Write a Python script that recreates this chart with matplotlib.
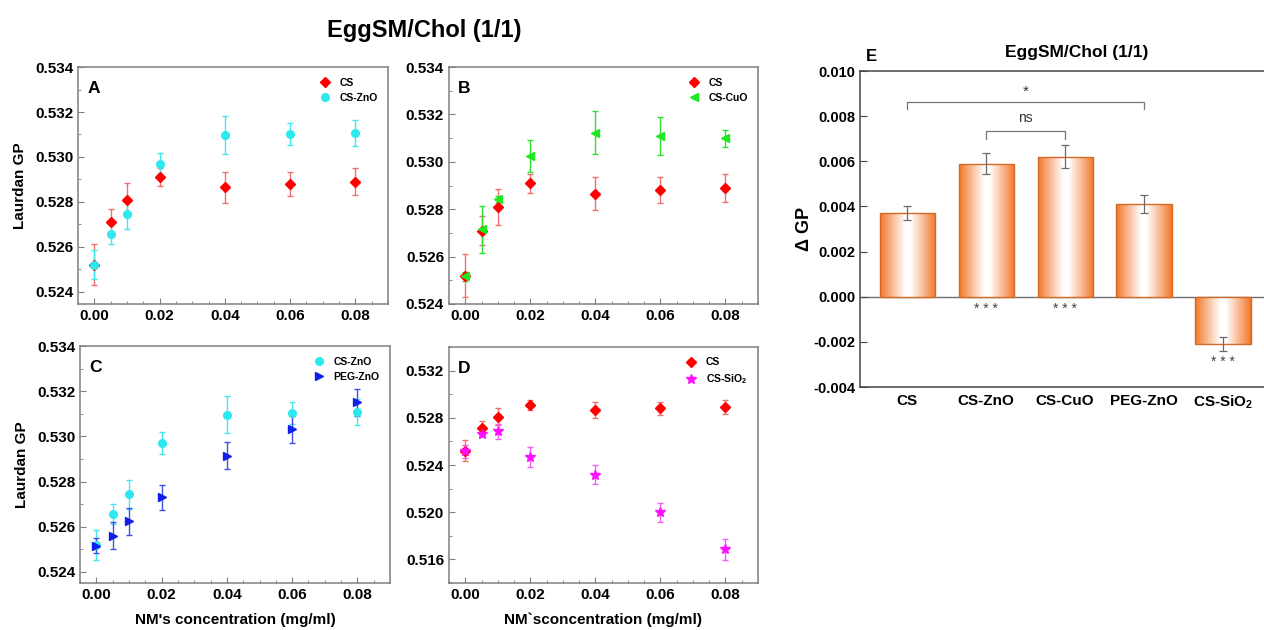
import numpy as np
import matplotlib
matplotlib.use("Agg")
import matplotlib.pyplot as plt
from matplotlib.ticker import MultipleLocator, FormatStrFormatter
from matplotlib.colors import LinearSegmentedColormap

plt.rcParams['font.family'] = ['Liberation Sans', 'DejaVu Sans']
plt.rcParams['mathtext.default'] = 'regular'

# concentrations (mg/ml)
conc = [0.0, 0.005, 0.01, 0.02, 0.04, 0.06, 0.08]

cs = [0.5252, 0.5271, 0.5281, 0.5291, 0.52865, 0.5288, 0.5289]
cs_err = [0.0009, 0.0006, 0.00075, 0.0004, 0.0007, 0.00055, 0.0006]
cs_zno = [0.5252, 0.52656, 0.52744, 0.5297, 0.53097, 0.53103, 0.53108]
cs_zno_err = [0.00065, 0.00045, 0.00065, 0.00048, 0.00083, 0.00049, 0.00058]
cs_cuo = [0.52516, 0.52715, 0.52844, 0.53025, 0.53123, 0.5311, 0.5310]
cs_cuo_err = [0.0002, 0.001, 0.00013, 0.00066, 0.0009, 0.0008, 0.00036]
peg_zno = [0.52516, 0.52561, 0.52624, 0.52731, 0.52914, 0.53032, 0.53151]
peg_zno_err = [0.00033, 0.00058, 0.0006, 0.00055, 0.0006, 0.0006, 0.0006]
cs_sio2 = [0.52515, 0.52662, 0.52685, 0.52468, 0.52318, 0.5200, 0.51685]
cs_sio2_err = [0.00056, 0.00015, 0.00065, 0.00085, 0.00078, 0.0008, 0.0009]

# delta GP bars
bar_labels = ['CS', 'CS-ZnO', 'CS-CuO', 'PEG-ZnO', 'CS-SiO$_2$']
dgp = [0.0037, 0.0059, 0.0062, 0.0041, -0.0021]
dgp_err = [0.0003, 0.00048, 0.0005, 0.0004, 0.0003]

styles = {
    'CS': dict(marker='D', color='#ff0000', ecolor='#f07070', ms=5),
    'CS-ZnO': dict(marker='o', color='#2ee8f0', ecolor='#40e8f0', ms=5.5),
    'CS-CuO': dict(marker='<', color='#1ee81e', ecolor='#30e030', ms=5.5),
    'PEG-ZnO': dict(marker='>', color='#1020e8', ecolor='#4050e0', ms=5.5),
    'CS-SiO$_2$': dict(marker='*', color='#ff10ff', ecolor='#f060f0', ms=7),
}

narrow = ['Liberation Sans Narrow', 'Liberation Sans']
grey = '#808080'

fig = plt.figure(figsize=(12.64, 6.30), dpi=100)


def style_ticks(ax):
    for lab in ax.get_xticklabels() + ax.get_yticklabels():
        lab.set_family(narrow)
        lab.set_fontweight('bold')
        lab.set_fontsize(11)


def panel(rect, series, letter, ylim, major, minor, ylabel=None, xlabel=None):
    ax = fig.add_axes(rect)
    for name, y, e in series:
        st = styles[name]
        ax.errorbar(conc, y, yerr=e, fmt='none', ecolor=st['ecolor'], elinewidth=1.0,
                    capsize=2.5, capthick=1.0, zorder=2)
        ax.plot(conc, y, linestyle='none', marker=st['marker'], color=st['color'],
                ms=st['ms'], label=name, zorder=3)
    ax.set_xlim(-0.005, 0.09)
    ax.set_ylim(*ylim)
    ax.xaxis.set_major_locator(MultipleLocator(0.02))
    ax.xaxis.set_minor_locator(MultipleLocator(0.005))
    ax.yaxis.set_major_locator(MultipleLocator(major))
    ax.yaxis.set_minor_locator(MultipleLocator(minor))
    ax.xaxis.set_major_formatter(FormatStrFormatter('%.2f'))
    ax.yaxis.set_major_formatter(FormatStrFormatter('%.3f'))
    ax.tick_params(which='both', direction='in', color=grey)
    ax.tick_params(which='major', length=4)
    ax.tick_params(which='minor', length=2)
    for s in ax.spines.values():
        s.set_color(grey)
        s.set_linewidth(1.1)
    style_ticks(ax)
    ax.text(0.03, 0.94, letter, transform=ax.transAxes, fontsize=12.5,
            fontweight='bold', va='top', ha='left')
    ax.legend(loc='upper right', frameon=False, prop=dict(weight='bold', size=7.5),
              handletextpad=0.4, borderaxespad=0.6, labelspacing=0.5)
    if ylabel:
        ax.set_ylabel(ylabel, fontsize=11, fontweight='bold', labelpad=6)
    if xlabel:
        ax.set_xlabel(xlabel, fontsize=11, fontweight='bold', labelpad=8)
    return ax


panel([0.0617, 0.5175, 0.2453, 0.376],
      [('CS', cs, cs_err), ('CS-ZnO', cs_zno, cs_zno_err)],
      'A', (0.52345, 0.534), 0.002, 0.001, ylabel='Laurdan GP')
panel([0.3552, 0.5175, 0.2445, 0.376],
      [('CS', cs, cs_err), ('CS-CuO', cs_cuo, cs_cuo_err)],
      'B', (0.524, 0.534), 0.002, 0.001)
panel([0.0633, 0.0746, 0.2453, 0.376],
      [('CS-ZnO', cs_zno, cs_zno_err), ('PEG-ZnO', peg_zno, peg_zno_err)],
      'C', (0.52351, 0.534), 0.002, 0.001, ylabel='Laurdan GP',
      xlabel="NM's concentration (mg/ml)")
axD = panel([0.3552, 0.0746, 0.2445, 0.3746],
            [('CS', cs, cs_err), ('CS-SiO$_2$', cs_sio2, cs_sio2_err)],
            'D', (0.514, 0.534), 0.004, 0.002,
            xlabel="NM`sconcentration (mg/ml)")
axD.set_yticks([0.516, 0.520, 0.524, 0.528, 0.532])
axD.set_ylim(0.514, 0.534)
style_ticks(axD)

fig.text(0.336, 0.952, 'EggSM/Chol (1/1)', fontsize=17, fontweight='bold',
         ha='center', va='center')

# panel E
axE = fig.add_axes([0.6804, 0.3857, 0.3196, 0.5016])
x = np.arange(len(bar_labels))
bars = axE.bar(x, dgp, width=0.7, facecolor='none', edgecolor='#d26a25',
               linewidth=1.0, zorder=3)
cmap = LinearSegmentedColormap.from_list(
    'og', [(0.0, '#f2772a'), (0.45, '#ffffff'), (0.55, '#ffffff'), (1.0, '#f2772a')])
grad = np.linspace(0, 1, 256).reshape(1, -1)
for p in bars:
    x0, w = p.get_x(), p.get_width()
    y0, h = p.get_y(), p.get_height()
    im = axE.imshow(grad, extent=(x0, x0 + w, min(y0, y0 + h), max(y0, y0 + h)),
                    aspect='auto', cmap=cmap, zorder=2)
    im.set_clip_path(p)
axE.errorbar(x, dgp, yerr=dgp_err, fmt='none', ecolor='#6a6a6a', elinewidth=0.9,
             capsize=3, capthick=0.9, zorder=4)
axE.axhline(0, color='#707070', lw=1.0, zorder=1)
axE.set_xlim(-0.6, 4.52)
axE.set_ylim(-0.004, 0.010)
axE.yaxis.set_major_locator(MultipleLocator(0.002))
axE.yaxis.set_major_formatter(FormatStrFormatter('%.3f'))
axE.set_xticks(x)
axE.set_xticklabels(bar_labels)
axE.tick_params(axis='x', length=0, pad=5, labelsize=11)
axE.tick_params(axis='y', direction='in', length=5, color='#444444', labelsize=10.5)
for lab in axE.get_xticklabels() + axE.get_yticklabels():
    lab.set_fontweight('bold')
axE.spines['right'].set_visible(False)
for s in ['left', 'top', 'bottom']:
    axE.spines[s].set_color('#444444')
    axE.spines[s].set_linewidth(1.1)
axE.set_ylabel('Δ GP', fontsize=13, fontweight='bold', labelpad=0)

# significance brackets
bk = '#777777'
axE.plot([0, 0, 3, 3], [0.0083, 0.00864, 0.00864, 0.0083], color=bk, lw=0.9)
axE.text(1.5, 0.0091, '*', ha='center', va='center', fontsize=11, color='#333333')
axE.plot([1, 1, 2, 2], [0.0070, 0.00732, 0.00732, 0.0070], color=bk, lw=0.9)
axE.text(1.5, 0.0079, 'ns', ha='center', va='center', fontsize=10, color='#333333')
for xi, yi in [(1, -0.00056), (2, -0.00056), (4, -0.0029)]:
    axE.text(xi, yi, '* * *', ha='center', va='center', fontsize=10, color='#444444')

axE.text(-0.53, 0.0103, 'E', fontsize=12, fontweight='bold', ha='left', va='bottom')
axE.set_title('EggSM/Chol (1/1)', fontsize=12.5, fontweight='bold', pad=10,
              x=0.537)

fig.savefig('out.png', dpi=100)
